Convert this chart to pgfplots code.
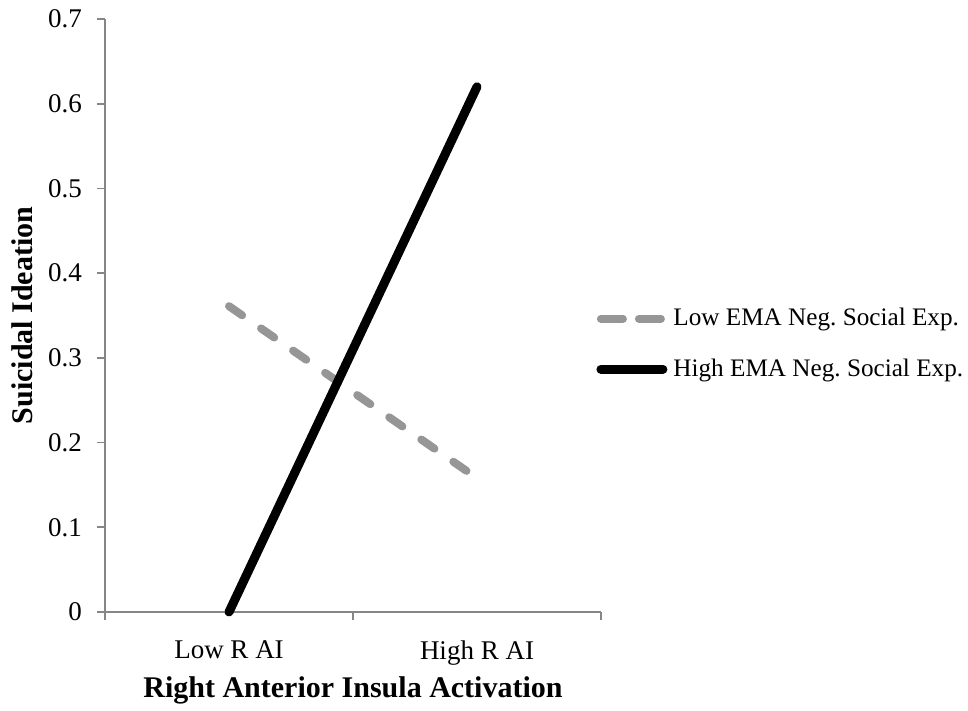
\documentclass[border=0pt]{standalone}
\usepackage{fontspec}
\setmainfont{Liberation Serif}
\usepackage{pgfplots}
\pgfplotsset{compat=1.18}
\definecolor{axisgray}{RGB}{134,134,134}
\definecolor{linegray}{RGB}{150,150,150}
\pgfplotsset{
  graylegend/.style={legend image code/.code={\draw[##1, dash pattern=on 11pt off 8pt] (2pt,0pt) -- (32pt,0pt);}},
  blacklegend/.style={legend image code/.code={\draw[##1] (2pt,0pt) -- (33pt,0pt);}},
}
\frenchspacing
\begin{document}
\begin{tikzpicture}
\path[use as bounding box] (-52.5pt,-49.5pt) rectangle (431.5pt,306pt);
\begin{axis}[
  scale only axis,
  width=248pt, height=296.5pt,
  at={(0pt,0pt)}, anchor=south west,
  xmin=0.5, xmax=2.5,
  ymin=0, ymax=0.7,
  axis x line=bottom, axis y line=left,
  axis line style={-, draw=axisgray, line width=0.9pt},
  xtick={0.5,1.5,2.5},
  xticklabels={Low R AI, High R AI},
  x tick label as interval,
  ytick={0,0.1,...,0.7},
  tick align=outside,
  major tick length=4pt,
  tick style={draw=axisgray, line width=0.9pt},
  /pgf/number format/assume math mode=true,
  yticklabel style={/pgf/number format/fixed, /pgf/number format/precision=1, font=\fontsize{13.5}{15}\selectfont, xshift=-4pt},
  xticklabel style={font=\fontsize{13.5}{15}\selectfont, yshift=-7pt},
  xlabel={Right Anterior Insula Activation},
  ylabel={Suicidal Ideation},
  xlabel style={font=\bfseries\fontsize{15}{18}\selectfont, at={(axis description cs:0.5,-0.1315)}, anchor=center},
  ylabel style={font=\bfseries\fontsize{15}{18}\selectfont, at={(axis description cs:-0.1673,0.5)}, anchor=center, rotate=0},
  legend style={draw=none, fill=none, at={(axis description cs:0.99,0.452)}, anchor=west, inner sep=0pt, row sep=15pt, font=\fontsize{12.6}{15}\selectfont, nodes={inner xsep=3pt, inner ysep=0pt}},
  legend cell align=left,
  clip=false,
]
\addplot[linegray, line width=4pt, line cap=round, dash pattern=on 8pt off 11.5pt, graylegend] coordinates {(1,0.361) (2,0.158)};
\addlegendentry{Low EMA Neg. Social Exp.}
\addplot[black, line width=4.5pt, line cap=round, blacklegend] coordinates {(1,0) (2,0.620)};
\addlegendentry{High EMA Neg. Social Exp.}
\end{axis}
\end{tikzpicture}
\end{document}
